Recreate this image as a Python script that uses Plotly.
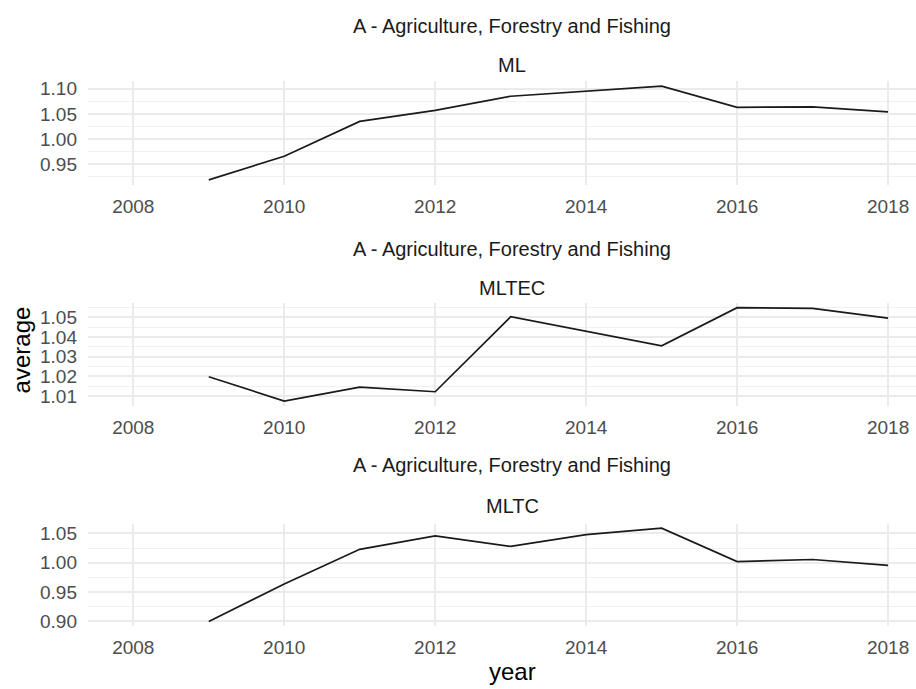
import plotly.graph_objects as go

years = [2009, 2010, 2011, 2012, 2013, 2014, 2015, 2016, 2017, 2018]
ml = [0.919, 0.966, 1.035, 1.057, 1.085, 1.095, 1.105, 1.063, 1.064, 1.054]
mltec = [1.0198, 1.0075, 1.0145, 1.0122, 1.0502, 1.0428, 1.0355, 1.0548, 1.0545, 1.0495]
mltc = [0.900, 0.964, 1.023, 1.046, 1.028, 1.048, 1.059, 1.002, 1.0056, 0.9956]

sector = "A - Agriculture, Forestry and Fishing"
measures = ["ML", "MLTEC", "MLTC"]
series = [ml, mltec, mltc]
x_ticks = [2008, 2010, 2012, 2014, 2016, 2018]
y_ticks = [[0.95, 1.00, 1.05, 1.10],
           [1.01, 1.02, 1.03, 1.04, 1.05],
           [0.90, 0.95, 1.00, 1.05]]
y_minor = [0.025, 0.005, 0.025]

W, H = 916, 689
panels = [(79.5, 184.0), (304.0, 408.0), (527.4, 631.4)]
title_y = [23, 249, 468]
sub_y = [63, 289, 510]
left_px = 88
center_x = 512 / W

fig = go.Figure()
font_fam = "Liberation Sans, Arial, sans-serif"
tick_font = dict(family=font_fam, size=19, color="#4D4D4D")
annotations = []
for i, (name, vals) in enumerate(zip(measures, series)):
    xa = "x" if i == 0 else f"x{i+1}"
    ya = "y" if i == 0 else f"y{i+1}"
    fig.add_trace(go.Scatter(x=years, y=vals, mode="lines",
                             line=dict(color="#1A1A1A", width=1.7),
                             xaxis=xa, yaxis=ya, showlegend=False))
    top, bot = panels[i]
    lo, hi = min(vals), max(vals)
    pad = (hi - lo) * 0.05
    xkey = "xaxis" if i == 0 else f"xaxis{i+1}"
    ykey = "yaxis" if i == 0 else f"yaxis{i+1}"
    fig.layout[xkey] = dict(
        domain=[left_px / W, 1.0], range=[2007.4, 2018.37], anchor=ya,
        tickvals=x_ticks, ticktext=[str(t) for t in x_ticks],
        showgrid=True, gridcolor="#EBEBEB", gridwidth=1.7,
        zeroline=False, showline=False, ticks="", tickfont=tick_font,
        ticklabelstandoff=8,
    )
    fig.layout[ykey] = dict(
        domain=[1 - bot / H, 1 - top / H], range=[lo - pad, hi + pad], anchor=xa,
        tickvals=y_ticks[i], tickformat=".2f",
        showgrid=True, gridcolor="#EBEBEB", gridwidth=1.7,
        minor=dict(dtick=y_minor[i], tick0=0, showgrid=True,
                   gridcolor="#F0F0F0", gridwidth=1.1),
        zeroline=False, showline=False, ticks="", tickfont=tick_font,
        ticklabelstandoff=10,
    )
    annotations.append(dict(text=sector, x=center_x, y=1 - title_y[i] / H,
                            xref="paper", yref="paper", showarrow=False,
                            xanchor="center", yanchor="middle",
                            font=dict(family=font_fam, size=20, color="#1A1A1A")))
    annotations.append(dict(text=name, x=center_x, y=1 - sub_y[i] / H,
                            xref="paper", yref="paper", showarrow=False,
                            xanchor="center", yanchor="middle",
                            font=dict(family=font_fam, size=20, color="#1A1A1A")))

annotations.append(dict(text="average", x=21 / W, y=1 - 352 / H, xref="paper", yref="paper",
                        showarrow=False, textangle=-90, xanchor="center", yanchor="middle",
                        font=dict(family=font_fam, size=24, color="#000000")))
annotations.append(dict(text="year", x=center_x, y=0, xref="paper", yref="paper",
                        showarrow=False, xanchor="center", yanchor="bottom", yshift=-4,
                        font=dict(family=font_fam, size=24, color="#000000")))

fig.update_layout(width=W, height=H, margin=dict(l=0, r=0, t=0, b=0),
                  plot_bgcolor="white", paper_bgcolor="white",
                  annotations=annotations)
fig.write_html("out.html", config={"displayModeBar": False},
               post_script="document.body.style.margin='0';document.body.style.overflow='hidden';")
